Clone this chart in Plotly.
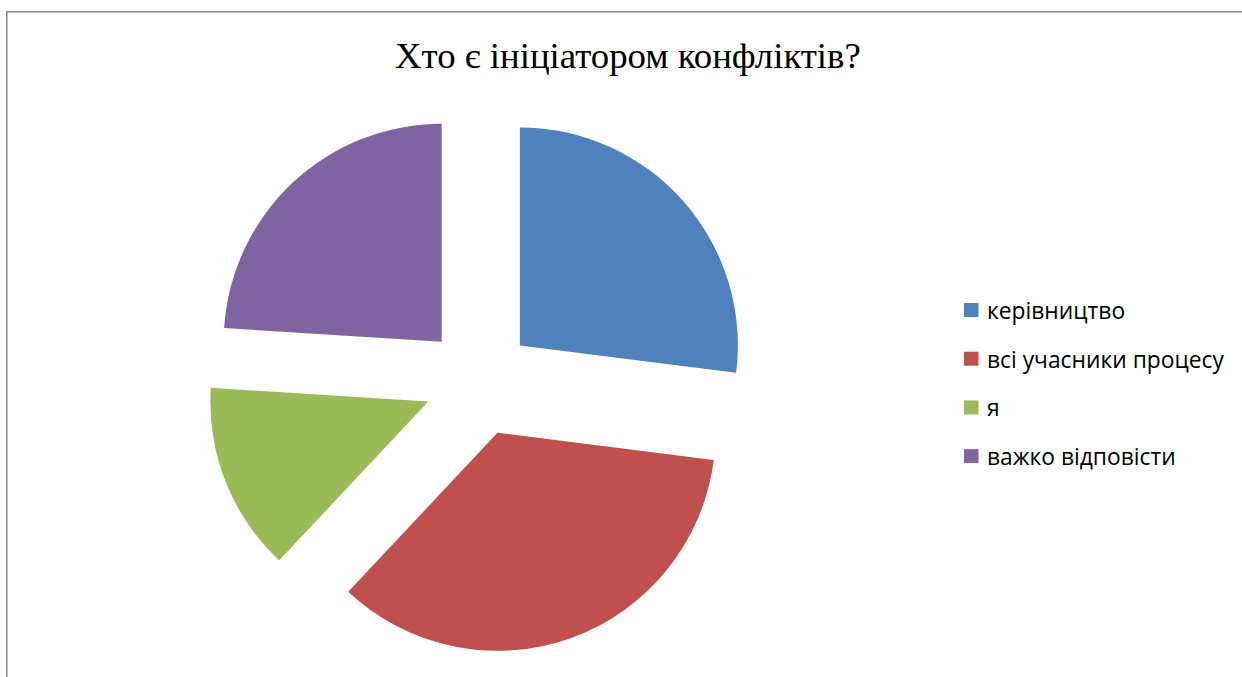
import plotly.graph_objects as go

# Survey answers: who initiates conflicts
categories = ["керівництво", "всі учасники процесу", "я", "важко відповісти"]
shares = [27, 35, 14, 24]
colors = ["#4F81BD", "#C0504D", "#9BBB59", "#8064A2"]
title_text = "Хто є ініціатором конфліктів?"

W, H = 1242, 677


def px_x(v):
    return v / W


def px_y(v):
    return 1 - v / H


fig = go.Figure(
    go.Pie(
        labels=categories,
        values=shares,
        sort=False,
        direction="clockwise",
        rotation=0,
        pull=0.25,
        marker=dict(colors=colors, line=dict(width=0)),
        textinfo="none",
        hoverinfo="label+percent",
        showlegend=False,
        domain=dict(x=[px_x(206.5), px_x(751.5)], y=[px_y(654), px_y(109)]),
    )
)

shapes = [
    # chart frame
    dict(
        type="rect", xref="paper", yref="paper",
        x0=px_x(6.75), x1=px_x(W + 10), y0=px_y(H + 10), y1=px_y(11.75),
        line=dict(color="#8c8c8c", width=1.6), fillcolor="rgba(0,0,0,0)",
        layer="above",
    )
]
annotations = [
    dict(
        text=title_text, xref="paper", yref="paper",
        x=px_x(627.5), y=px_y(55), xanchor="center", yanchor="middle",
        showarrow=False,
        font=dict(family="Liberation Serif", size=36.8, color="#000000"),
    )
]

# legend drawn as swatches plus labels
legend_top = 310
legend_step = 48.7
for i, (name, col) in enumerate(zip(categories, colors)):
    cy = legend_top + i * legend_step
    shapes.append(
        dict(
            type="rect", xref="paper", yref="paper",
            x0=px_x(964), x1=px_x(978.5), y0=px_y(cy + 7), y1=px_y(cy - 7),
            fillcolor=col, line=dict(width=0),
        )
    )
    annotations.append(
        dict(
            text=name, xref="paper", yref="paper",
            x=px_x(984.5), y=px_y(cy + 0.5), xanchor="left", yanchor="middle",
            showarrow=False,
            font=dict(family="Open Sans", size=22.8, color="#000000"),
        )
    )

fig.update_layout(
    width=W,
    height=H,
    margin=dict(l=0, r=0, t=0, b=0),
    paper_bgcolor="#ffffff",
    plot_bgcolor="#ffffff",
    shapes=shapes,
    annotations=annotations,
)

fig.write_html("out.html")
